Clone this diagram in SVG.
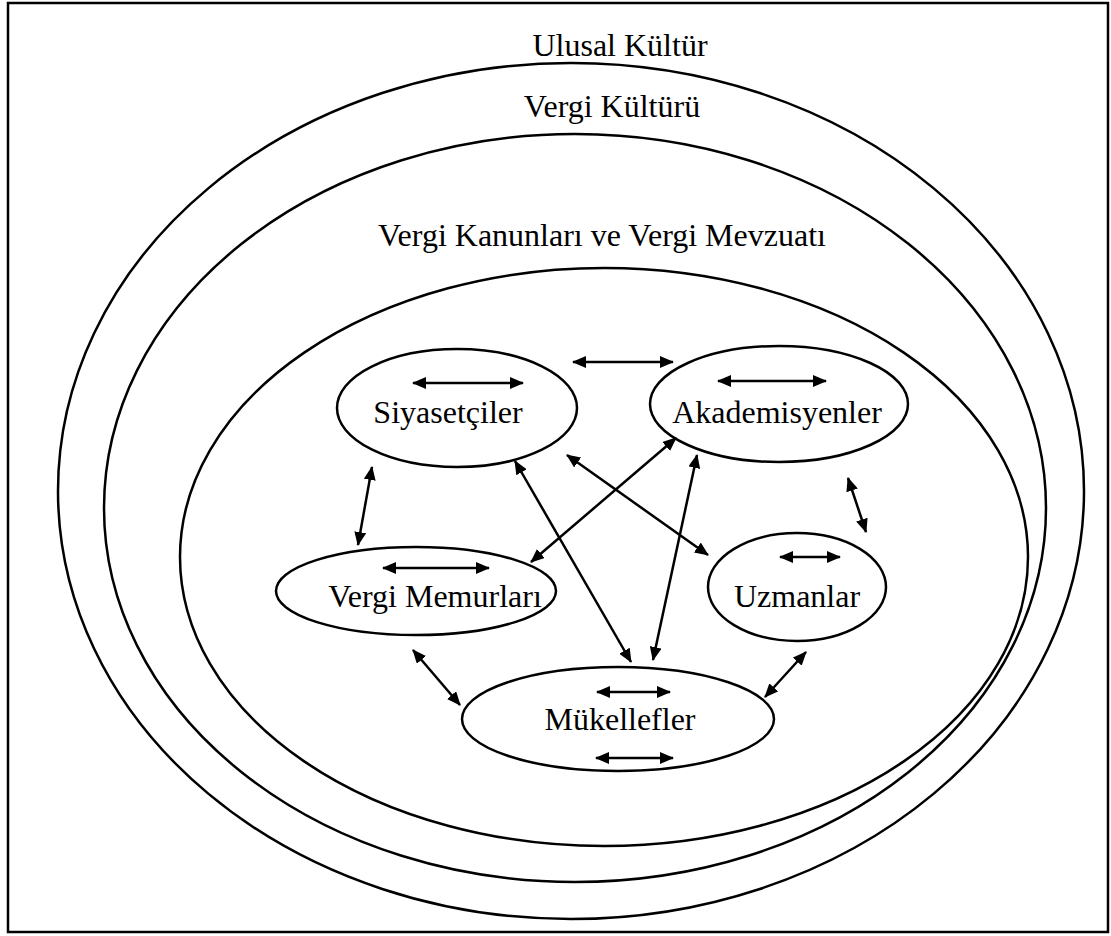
<svg xmlns="http://www.w3.org/2000/svg" width="1111" height="936" viewBox="0 0 1111 936">
<style>
.ring{fill:none;stroke:#000;stroke-width:2.5}
.node{fill:#fff;stroke:#000;stroke-width:2.5}
.t{font-family:"Liberation Serif","Times New Roman",serif;font-size:32px;fill:#000;text-anchor:middle}
.c{stroke:#000;stroke-width:2.5;fill:none;marker-start:url(#ah);marker-end:url(#ah)}
</style>
<defs>
<marker id="ah" viewBox="0 0 14 12" refX="13" refY="6" markerWidth="14" markerHeight="12" markerUnits="userSpaceOnUse" orient="auto-start-reverse">
<path d="M0,0 L14,6 L0,12 z" fill="#000"/>
</marker>
</defs>
<rect x="0" y="0" width="1111" height="936" fill="#fff"/>
<rect x="8" y="3" width="1100" height="929" fill="none" stroke="#000" stroke-width="2.5"/>
<g id="ulusal">
<ellipse class="ring" cx="571" cy="491" rx="513" ry="428"/>
<text class="t" x="620" y="56">Ulusal Kültür</text>
</g>
<g id="kultur">
<ellipse class="ring" cx="575" cy="508" rx="471" ry="374"/>
<text class="t" x="612" y="117">Vergi Kültürü</text>
</g>
<g id="kanun">
<ellipse class="ring" cx="604" cy="557" rx="424" ry="289"/>
<text class="t" x="602" y="246">Vergi Kanunları ve Vergi Mevzuatı</text>
</g>
<g id="siyasetciler">
<ellipse class="node" cx="457" cy="408" rx="120" ry="59"/>
<text class="t" x="448" y="423">Siyasetçiler</text>
</g>
<g id="akademisyenler">
<ellipse class="node" cx="779" cy="404" rx="129" ry="58"/>
<text class="t" x="777" y="423">Akademisyenler</text>
</g>
<g id="memurlar">
<ellipse class="node" cx="416" cy="591" rx="140" ry="44"/>
<text class="t" x="435" y="607">Vergi Memurları</text>
</g>
<g id="uzmanlar">
<ellipse class="node" cx="797" cy="587" rx="89" ry="54"/>
<text class="t" x="797" y="607">Uzmanlar</text>
</g>
<g id="mukellefler">
<ellipse class="node" cx="618" cy="719" rx="156" ry="52"/>
<text class="t" x="620" y="730">Mükellefler</text>
</g>
<g id="connectors">
<line class="c" x1="413" y1="383" x2="523" y2="383"/>
<line class="c" x1="718" y1="381" x2="826" y2="381"/>
<line class="c" x1="383" y1="568" x2="489" y2="568"/>
<line class="c" x1="780" y1="557" x2="840" y2="557"/>
<line class="c" x1="597" y1="692" x2="670" y2="692"/>
<line class="c" x1="596" y1="758" x2="673" y2="758"/>
<line class="c" x1="573" y1="362" x2="673" y2="362"/>
<line class="c" x1="372" y1="467" x2="358" y2="545"/>
<line class="c" x1="515" y1="461" x2="631" y2="662"/>
<line class="c" x1="567" y1="455" x2="708" y2="555"/>
<line class="c" x1="676" y1="438" x2="531" y2="562"/>
<line class="c" x1="697" y1="455" x2="653" y2="660"/>
<line class="c" x1="848" y1="478" x2="866" y2="532"/>
<line class="c" x1="413" y1="650" x2="460" y2="705"/>
<line class="c" x1="806" y1="652" x2="765" y2="697"/>
</g>
</svg>
